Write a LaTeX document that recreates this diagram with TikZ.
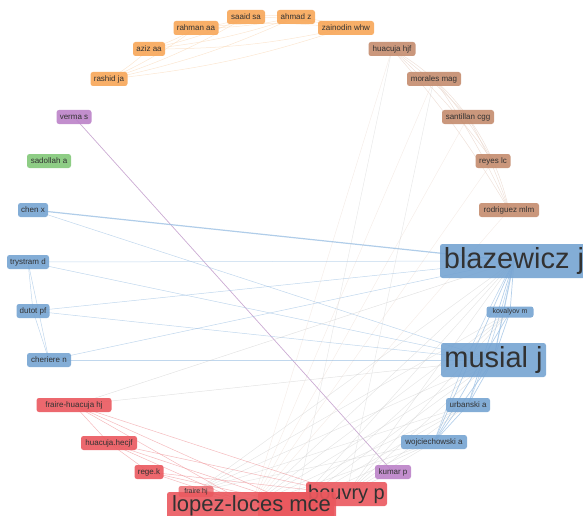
\documentclass[tikz,border=0pt]{standalone}
\usepackage{fontspec}
\setmainfont{Liberation Sans}
\pgfdeclarelayer{bg}
\pgfsetlayers{bg,main}
\definecolor{cor}{RGB}{247,166,88}
\definecolor{cbr}{RGB}{196,140,110}
\definecolor{cpu}{RGB}{187,130,200}
\definecolor{cgr}{RGB}{130,200,120}
\definecolor{cbl}{RGB}{118,164,210}
\definecolor{cre}{RGB}{234,88,94}
\definecolor{ctx}{RGB}{50,50,50}
\definecolor{eor}{RGB}{249,215,180}
\definecolor{ebr}{RGB}{228,205,192}
\definecolor{ebl}{RGB}{150,188,225}
\definecolor{egr}{RGB}{200,200,200}
\definecolor{ere}{RGB}{236,130,135}
\definecolor{epu}{RGB}{190,150,200}
\tikzset{
  nd/.style={rounded corners=2.5pt, inner sep=0pt, text=ctx, fill opacity=0.9, text opacity=1, font=\fontsize{8}{9}\selectfont, minimum height=14pt},
  sm/.style={nd, font=\fontsize{7}{8}\selectfont, minimum height=11pt},
  ed/.style={line width=0.5pt, draw opacity=0.6},
}
\begin{document}
\begin{tikzpicture}[x=1pt,y=-1pt]
\useasboundingbox (0,0) rectangle (583,516);
% orange
\node[nd, fill=cor, minimum width=38pt] (saaid) at (246,17) {saaid sa};
\node[nd, fill=cor, minimum width=38pt] (ahmad) at (296,17) {ahmad z};
\node[nd, fill=cor, minimum width=45pt] (rahman) at (196,28) {rahman aa};
\node[nd, fill=cor, minimum width=56pt] (zainodin) at (346,28) {zainodin whw};
\node[nd, fill=cor, minimum width=32pt] (aziz) at (149,49) {aziz aa};
\node[nd, fill=cor, minimum width=37pt] (rashid) at (109,79) {rashid ja};
% brown
\node[nd, fill=cbr, minimum width=47pt] (hjf) at (392,49) {huacuja hjf};
\node[nd, fill=cbr, minimum width=54pt] (morales) at (434,79) {morales mag};
\node[nd, fill=cbr, minimum width=52pt] (santillan) at (468,117) {santillan cgg};
\node[nd, fill=cbr, minimum width=35pt] (reyes) at (493,161) {reyes lc};
\node[nd, fill=cbr, minimum width=60pt] (rodriguez) at (509,210) {rodriguez mlm};
% purple / green
\node[nd, fill=cpu, minimum width=35pt] (verma) at (74,117) {verma s};
\node[nd, fill=cgr, minimum width=44pt] (sadollah) at (49,161) {sadollah a};
\node[nd, fill=cpu, minimum width=36pt] (kumar) at (393,472) {kumar p};
% blue
\node[nd, fill=cbl, minimum width=30pt] (chen) at (33,210) {chen x};
\node[nd, fill=cbl, minimum width=42pt] (trystram) at (28,262) {trystram d};
\node[nd, fill=cbl, minimum width=33pt] (dutot) at (33,311) {dutot pf};
\node[nd, fill=cbl, minimum width=44pt] (cheriere) at (49,360) {cheriere n};
\node[nd, fill=cbl, minimum width=148pt, minimum height=34pt, font=\fontsize{29}{30}\selectfont] (blazewicz) at (514,261) {blazewicz j};
\node[sm, fill=cbl, minimum width=47pt] (kovalyov) at (510,312) {kovalyov m};
\node[nd, fill=cbl, minimum width=105pt, minimum height=34pt, font=\fontsize{29}{30}\selectfont] (musial) at (493.5,360) {musial j};
\node[nd, fill=cbl, minimum width=44pt] (urbanski) at (468,405) {urbanski a};
\node[nd, fill=cbl, minimum width=66pt] (wojc) at (434,442) {wojciechowski a};
% red
\node[nd, fill=cre, minimum width=75pt] (fhj) at (74,405) {fraire-huacuja hj};
\node[nd, fill=cre, minimum width=56pt] (hecjf) at (109,443) {huacuja.hecjf};
\node[nd, fill=cre, minimum width=29pt] (rege) at (149,472) {rege.k};
\node[nd, fill=cre, minimum width=76pt, minimum height=26pt] (hidden) at (296,505) {};
\node[nd, fill=cre, minimum width=81pt, minimum height=24pt, font=\fontsize{20}{21}\selectfont] (bouvry) at (346.5,494) {bouvry p};
\node[nd, fill=cre, minimum width=169pt, minimum height=28pt, font=\fontsize{22}{23}\selectfont] (lopez) at (251.5,506) {lopez-loces mce};
\node[sm, fill=cre, minimum width=35pt, fill opacity=0.75] (fraire) at (196,491.5) {fraire hj};

\begin{pgfonlayer}{bg}
% orange cluster
\foreach \a/\b in {saaid/ahmad,saaid/rahman,saaid/zainodin,saaid/aziz,saaid/rashid,ahmad/rahman,ahmad/zainodin,ahmad/aziz,ahmad/rashid,rahman/zainodin,rahman/aziz,rahman/rashid,zainodin/aziz,zainodin/rashid,aziz/rashid}
  \draw[ed, eor] (\a.center) to[bend left=6] (\b.center);
% brown cluster
\foreach \a/\b in {hjf/morales,hjf/santillan,hjf/reyes,hjf/rodriguez,morales/santillan,morales/reyes,morales/rodriguez,santillan/reyes,santillan/rodriguez,reyes/rodriguez}
  \draw[ed, ebr] (\a.center) to[bend left=5] (\b.center);
\foreach \a in {hjf,morales,santillan,reyes,rodriguez}
  \draw[ed, ebr!70, draw opacity=0.5] (\a.center) -- (lopez.center);
% purple
\draw[ed, epu, line width=0.7pt, draw opacity=0.8] (verma.center) -- (kumar.center);
% left blue
\draw[ebl, line width=1.2pt, draw opacity=0.75] (chen.center) -- (blazewicz.center);
\foreach \a in {chen,trystram,dutot,cheriere}
  \draw[ed, ebl] (\a.center) -- (musial.center);
\foreach \a in {trystram,dutot,cheriere}
  \draw[ed, ebl] (\a.center) -- (blazewicz.center);
\draw[ed, ebl] (trystram.center) -- (dutot.center);
\draw[ed, ebl] (trystram.center) -- (cheriere.center);
\draw[ed, ebl] (dutot.center) -- (cheriere.center);
% right blue cluster
\draw[ebl, line width=1.1pt, draw opacity=0.7] (blazewicz.center) -- (musial.center);
\foreach \a/\b in {blazewicz/kovalyov,blazewicz/urbanski,blazewicz/wojc,musial/urbanski,musial/wojc,musial/kovalyov,urbanski/wojc,kovalyov/wojc}
  \draw[ebl, line width=0.7pt, draw opacity=0.7] (\a.center) -- (\b.center);
\draw[ebl, line width=0.6pt, draw opacity=0.6] (blazewicz.center) to[bend right=4] (wojc.center);
\draw[ebl, line width=0.6pt, draw opacity=0.6] (blazewicz.center) to[bend left=4] (urbanski.center);
% grey links
\foreach \a in {lopez,bouvry,hidden,fraire}
  \foreach \b in {blazewicz,musial,urbanski,wojc,kovalyov}
    \draw[ed, egr, draw opacity=0.45] (\a.center) -- (\b.center);
\draw[ed, egr, draw opacity=0.5] (fhj.center) -- (blazewicz.center);
\draw[ed, egr, draw opacity=0.5] (fhj.center) -- (musial.center);
\draw[ed, egr, draw opacity=0.45] (bouvry.center) -- (kumar.center);
\draw[ed, egr, draw opacity=0.4] (hidden.center) -- (hjf.center);
\draw[ed, egr, draw opacity=0.4] (bouvry.center) -- (morales.center);
% red links
\foreach \a in {fhj,hecjf,rege,fraire}
  \foreach \b in {lopez,bouvry,hidden}
    \draw[ed, ere, draw opacity=0.55] (\a.center) -- (\b.center);
\draw[ed, ere, draw opacity=0.55] (fhj.center) -- (hecjf.center);
\draw[ed, ere, draw opacity=0.55] (hecjf.center) -- (rege.center);
\end{pgfonlayer}
\end{tikzpicture}
\end{document}
